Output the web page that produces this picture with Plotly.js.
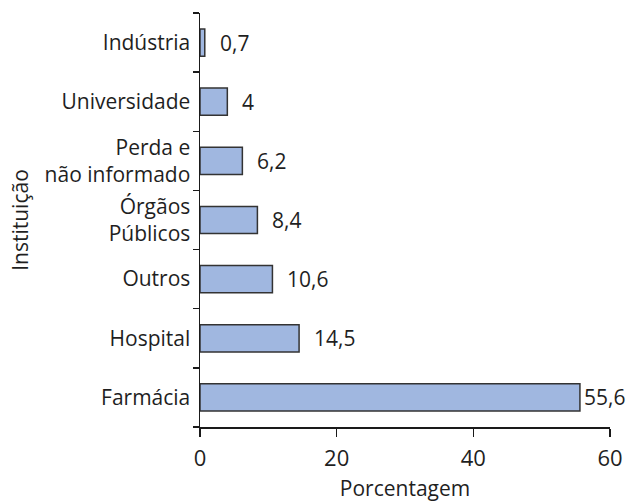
<!DOCTYPE html>
<html><head><meta charset="utf-8">
<script src="https://cdn.plot.ly/plotly-3.0.1.min.js"></script>
<style>html,body{margin:0;padding:0;background:#fff}</style>
</head><body>
<div id="chart" style="width:633px;height:502px"></div>
<script>
const categories = ["Farmácia", "Hospital", "Outros", "Órgãos<br>Públicos", "Perda e<br>não informado", "Universidade", "Indústria"];
const values = [55.6, 14.5, 10.6, 8.4, 6.2, 4, 0.7];
const xTicks = [0, 20, 40, 60];
const labels = values.map(v => String(v).replace('.', ','));

const font = {family: "Open Sans, Noto Sans, sans-serif", size: 21, color: "#1f1f1f"};
const tickFontX = {family: "Open Sans, Noto Sans, sans-serif", size: 22, color: "#1f1f1f"};

const annotations = categories.map((c, i) => ({
  x: values[i], y: c, xref: "x", yref: "y",
  text: labels[i], showarrow: false,
  xanchor: "left", yanchor: "middle",
  xshift: values[i] > 50 ? 2 : 13,
  font: font
}));

Plotly.newPlot("chart", [{
  type: "bar",
  orientation: "h",
  y: categories,
  x: values,
  width: 0.46,
  marker: {color: "#a0b7e0", line: {color: "#333333", width: 1.5}},
  hoverinfo: "none"
}], {
  width: 633, height: 502,
  margin: {l: 200, r: 23, t: 13, b: 75},
  paper_bgcolor: "#fff", plot_bgcolor: "#fff",
  font: font,
  showlegend: false,
  annotations: annotations,
  xaxis: {
    range: [0, 60], tickvals: xTicks, ticktext: xTicks.map(String),
    showgrid: false, zeroline: false, showline: true, linecolor: "#1a1a1a", linewidth: 1.5,
    ticks: "outside", ticklen: 8, tickwidth: 1.5, tickcolor: "#1a1a1a",
    tickfont: tickFontX, ticklabelstandoff: 3,
    title: {text: "Porcentagem", font: font, standoff: 15}
  },
  yaxis: {
    type: "category", categoryorder: "array", categoryarray: categories,
    showgrid: false, zeroline: false, showline: true, linecolor: "#1a1a1a", linewidth: 1.5,
    ticks: "outside", tickson: "boundaries", ticklen: 6, tickwidth: 1.5, tickcolor: "#1a1a1a",
    tickfont: font, ticklabelstandoff: 4,
    title: {text: "Instituição", font: font, standoff: 10}
  }
}, {displayModeBar: false, staticPlot: true});
</script>
</body></html>
